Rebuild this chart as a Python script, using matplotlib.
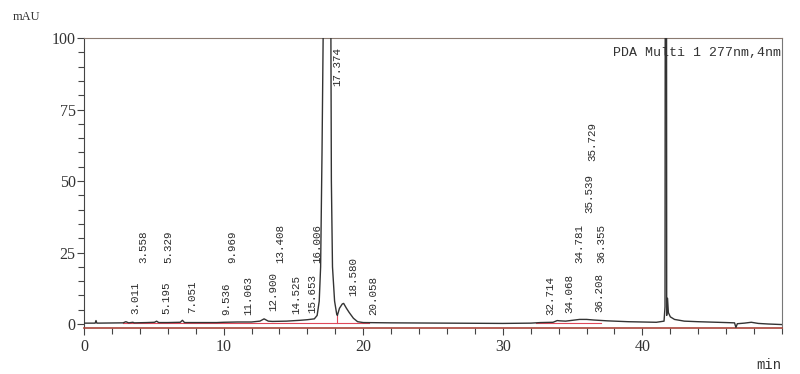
import numpy as np
import matplotlib
matplotlib.use("Agg")
import matplotlib.pyplot as plt
from matplotlib.ticker import MultipleLocator, FixedLocator

# chromatogram trace (time in min, signal in mAU)
t = [0.0, 0.80, 0.86, 0.92, 2.8, 3.0, 3.2, 3.5, 3.6, 4.5, 5.05, 5.2, 5.35, 6.0,
     6.9, 7.05, 7.2, 8.5, 9.5, 10.0, 11.0, 12.0, 12.6, 12.9, 13.2, 13.5,
     14.5, 15.5, 16.0, 16.5, 16.7, 16.85, 16.95, 17.05, 17.15, 17.374, 17.68,
     17.72, 17.8, 17.95, 18.1, 18.15, 18.3, 18.5, 18.6, 18.8, 19.0, 19.3,
     19.6, 20.0, 22.0, 26.0, 30.0, 32.0, 32.7, 33.6, 33.9, 34.1, 34.5, 35.0,
     35.5, 36.0, 36.5, 37.5, 39.0, 41.0, 41.55, 41.62, 41.69, 41.74, 41.80,
     41.86, 42.0, 42.3, 43.0, 44.0, 46.0, 46.6, 46.7, 46.8, 47.3, 47.8, 48.3,
     49.0, 50.0]
mau = [0.3, 0.3, 1.2, 0.3, 0.4, 0.8, 0.4, 0.6, 0.4, 0.5, 0.6, 1.0, 0.5, 0.5,
       0.6, 1.3, 0.5, 0.5, 0.5, 0.6, 0.7, 0.7, 1.0, 1.8, 1.0, 0.9,
       1.0, 1.3, 1.5, 1.8, 3.0, 8.0, 20.0, 60.0, 110.0, 600.0, 110.0,
       50.0, 20.0, 8.0, 3.5, 3.0, 5.5, 7.0, 7.2, 5.5, 4.0, 2.0,
       0.8, 0.5, 0.4, 0.3, 0.2, 0.3, 0.5, 0.6, 1.2, 1.1, 1.0, 1.3,
       1.6, 1.6, 1.4, 1.1, 0.8, 0.6, 1.0, 6.0, 500.0, 3.0, 9.0,
       4.0, 2.5, 1.6, 1.0, 0.8, 0.5, 0.4, -1.2, 0.1, 0.3, 0.6, 0.2,
       0.0, -0.2]

# peak table
peak_rt = [3.011, 3.558, 5.195, 5.329, 7.051, 9.536, 9.969, 11.063, 12.900,
           13.408, 14.525, 15.653, 16.006, 17.374, 18.580, 20.058, 32.714,
           34.068, 34.781, 35.539, 35.729, 36.208, 36.355]
peak_height = [0.8, 0.6, 1.0, 0.9, 1.3, 0.6, 0.6, 0.7, 1.8, 0.9, 1.0, 1.3,
               1.6, 600.0, 7.2, 0.6, 0.6, 1.1, 1.3, 1.6, 1.6, 1.5, 1.5]
label_tier = [0, 1, 0, 1, 0, 0, 1, 0, 0, 1, 0, 0, 1, 0, 0, 0, 0, 0, 1, 2, 3,
              0, 1]

# integration baselines (start, end) in min
base_start = [2.8, 32.4]
base_end = [20.4, 37.0]
drop_rt = [18.15]

x_ticks = [0, 10, 20, 30, 40]

fig = plt.figure(figsize=(8, 3.74), dpi=100)
ax = fig.add_axes([0.105, 0.123, 0.8725, 0.775])

for s, e in zip(base_start, base_end):
    ax.plot([s, e], [0.25, 0.25], color="#e0485a", lw=0.8, zorder=2)
for d in drop_rt:
    ax.plot([d, d], [0.25, 3.0], color="#e0485a", lw=0.8, zorder=2)

ax.plot(t, mau, color="#333333", lw=1.0, zorder=3)

tier_level = [3.0, 21.5, 39.0, 57.0]
for rt, h, tier in zip(peak_rt, peak_height, label_tier):
    lab = f"{rt:.3f}"
    if h > 100:
        ax.text(rt + 0.75, 97, lab, rotation=90, ha="center", va="top",
                family="Liberation Mono", fontsize=7.8, color="#2a2a2a")
    else:
        y = max(tier_level[tier], h + 2.6)
        ax.text(rt + 0.68, y, lab, rotation=90, ha="center", va="bottom",
                family="Liberation Mono", fontsize=7.8, color="#2a2a2a")

ax.set_xlim(0, 50)
ax.set_ylim(-1.4, 100)
ax.xaxis.set_major_locator(FixedLocator(x_ticks))
ax.xaxis.set_minor_locator(MultipleLocator(2))
ax.yaxis.set_major_locator(MultipleLocator(25))
ax.yaxis.set_minor_locator(MultipleLocator(5))
ax.tick_params(which="both", direction="out", color="#444444", width=0.8)
ax.tick_params(which="major", length=5)
ax.tick_params(which="minor", length=4)
ax.tick_params(axis="x", pad=3)
ax.tick_params(axis="y", pad=1)
for lbl in ax.get_xticklabels() + ax.get_yticklabels():
    lbl.set_family("Liberation Serif")
    lbl.set_fontsize(11.5)
    lbl.set_color("#333333")

ax.spines["left"].set_color("#444444")
ax.spines["top"].set_color("#8a7a70")
ax.spines["right"].set_color("#777777")
ax.spines["bottom"].set_color("#a8443a")
ax.spines["bottom"].set_linewidth(1.2)

ax.text(0.999, 0.97, "PDA Multi 1 277nm,4nm", transform=ax.transAxes,
        ha="right", va="top", family="Liberation Mono", fontsize=9.5,
        color="#333333")
fig.text(0.016, 0.955, "mAU", family="Liberation Serif", fontsize=9,
         color="#333333", ha="left", va="center")
fig.text(0.977, 0.025, "min", family="Liberation Mono", fontsize=10,
         color="#333333", ha="right", va="center")

fig.savefig("out.png", dpi=100)
